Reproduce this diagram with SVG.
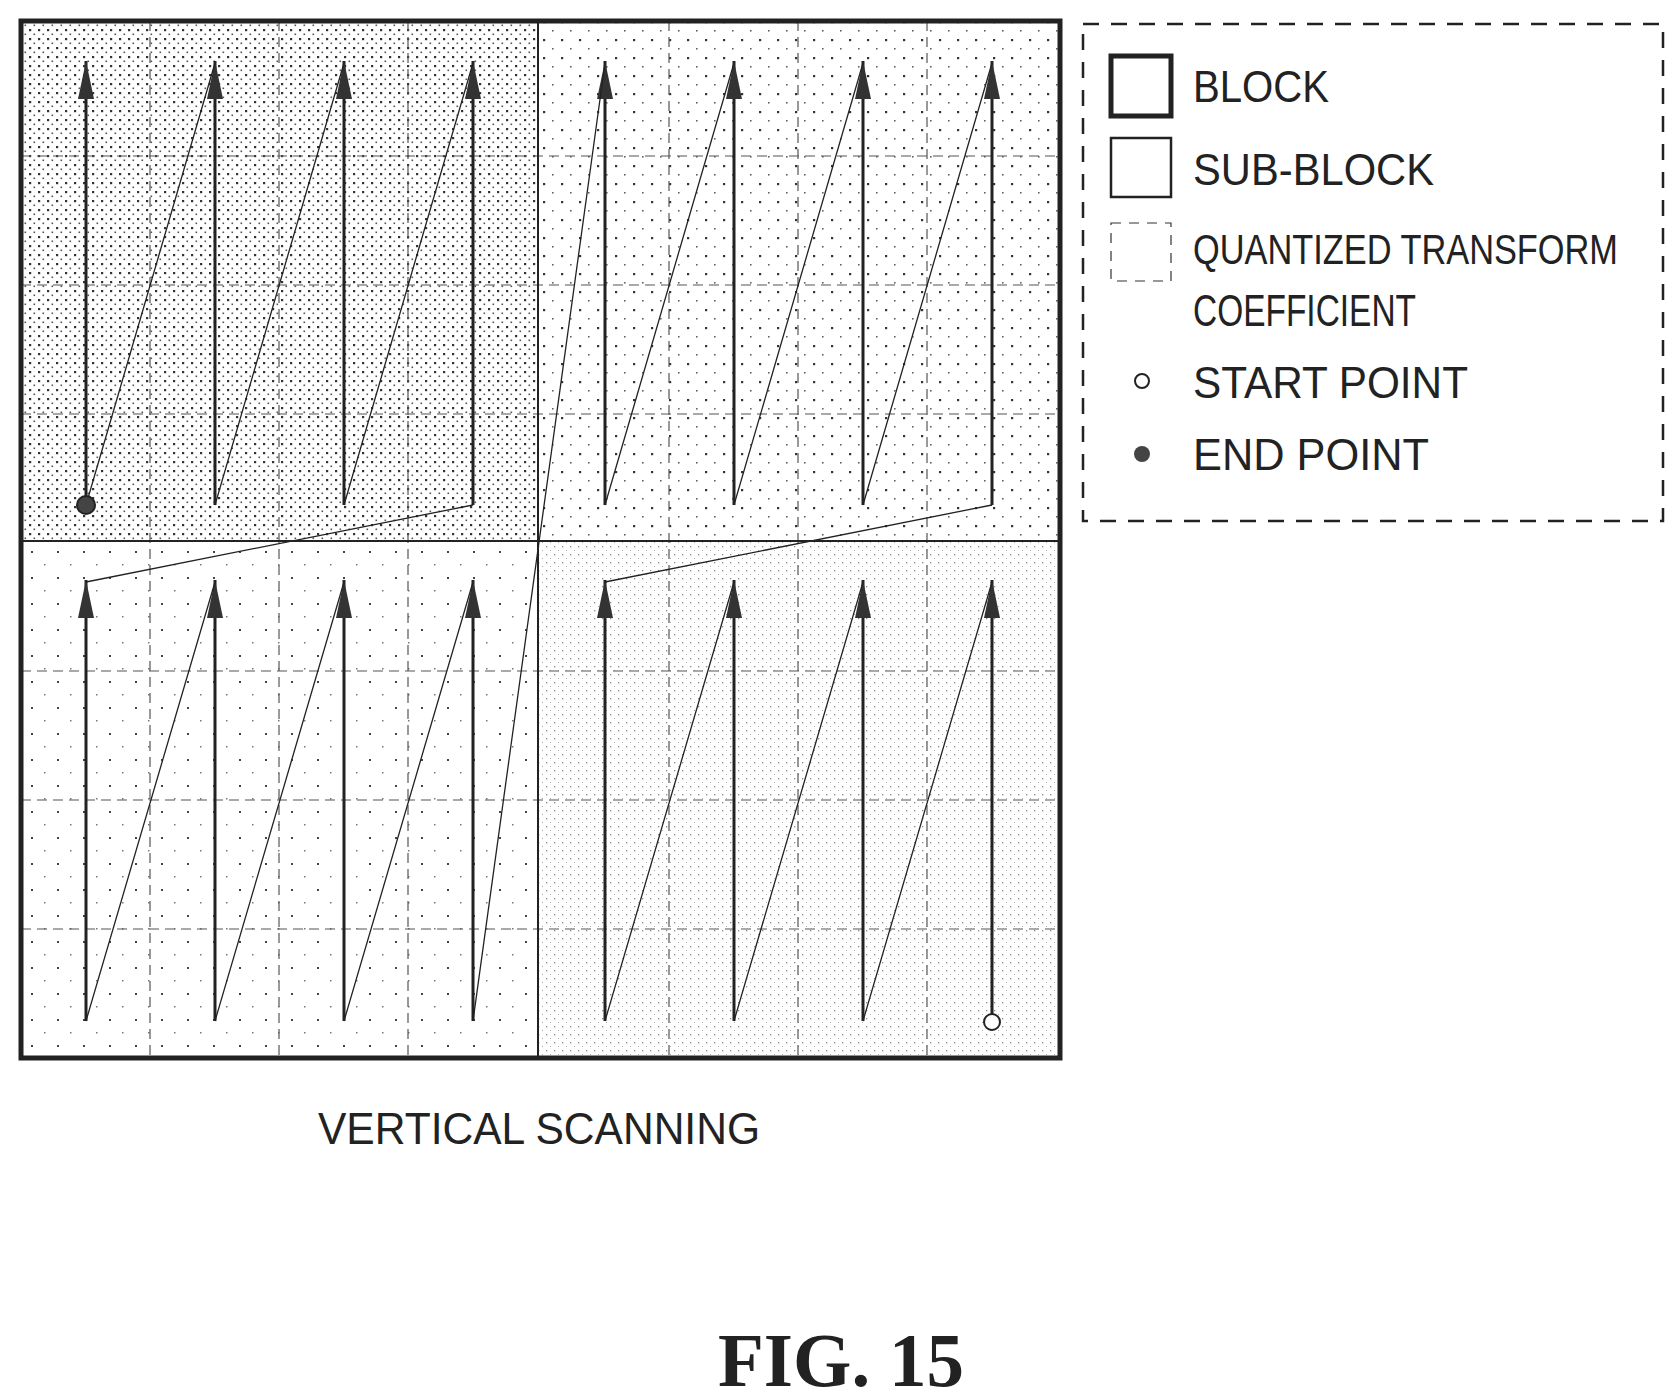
<svg xmlns="http://www.w3.org/2000/svg" width="1676" height="1399" viewBox="0 0 1676 1399">
<style>
.t{font-family:"Liberation Sans",Arial,sans-serif;font-size:44px;fill:#222}
.grid{stroke:#555;stroke-width:1.2;stroke-dasharray:10 6;fill:none}
.arr{stroke:#222;stroke-width:3;fill:none;marker-end:url(#ah)}
.diag{stroke:#222;stroke-width:1.3;fill:none}
</style>
<defs>
<marker id="ah" markerWidth="40" markerHeight="16" refX="40" refY="8" orient="auto" markerUnits="userSpaceOnUse" viewBox="0 0 40 16">
<path d="M40 8 L2 0 L2 16 Z" fill="#333"/>
</marker>
<pattern id="p1" width="9" height="9" patternUnits="userSpaceOnUse"><rect width="9" height="9" fill="#fff"/><rect x="2" y="2" width="2.2" height="2.2" fill="#333"/><rect x="6.5" y="6.5" width="1.6" height="1.6" fill="#555"/></pattern>
<pattern id="p2" width="18" height="18" patternUnits="userSpaceOnUse"><rect width="18" height="18" fill="#fff"/><rect x="3" y="3" width="2.2" height="2.2" fill="#333"/><rect x="12" y="12" width="1.6" height="1.6" fill="#666"/></pattern>
<pattern id="p3" width="26" height="26" patternUnits="userSpaceOnUse"><rect width="26" height="26" fill="#fff"/><rect x="5" y="5" width="2" height="2" fill="#444"/><rect x="18" y="18" width="1.5" height="1.5" fill="#777"/></pattern>
<pattern id="p4" width="8" height="8" patternUnits="userSpaceOnUse"><rect width="8" height="8" fill="#fff"/><rect x="2" y="2" width="1.3" height="1.3" fill="#888"/><rect x="6" y="6" width="1" height="1" fill="#aaa"/></pattern>
</defs>
<rect width="1676" height="1399" fill="#fff"/>
<g id="blocks">
<rect x="21" y="21" width="517" height="520" fill="url(#p1)"/>
<rect x="538" y="21" width="522" height="520" fill="url(#p2)"/>
<rect x="21" y="541" width="517" height="517" fill="url(#p3)"/>
<rect x="538" y="541" width="522" height="517" fill="url(#p4)"/>
<path class="grid" d="M150 21V1058M279 21V1058M408 21V1058M669 21V1058M798 21V1058M927 21V1058M21 156H1060M21 285H1060M21 414H1060M21 671H1060M21 800H1060M21 929H1060"/>
<path d="M538 21V1058M21 541H1060" stroke="#222" stroke-width="2" fill="none"/>
<rect x="21" y="21" width="1039" height="1037" fill="none" stroke="#222" stroke-width="5"/>
</g>
<g id="connectors">
<path class="arr" d="M86 505V61"/><path class="arr" d="M215 505V61"/><path class="arr" d="M344 505V61"/><path class="arr" d="M473 505V61"/>
<path class="arr" d="M605 505V61"/><path class="arr" d="M734 505V61"/><path class="arr" d="M863 505V61"/><path class="arr" d="M992 505V61"/>
<path class="arr" d="M86 1021V580"/><path class="arr" d="M215 1021V580"/><path class="arr" d="M344 1021V580"/><path class="arr" d="M473 1021V580"/>
<path class="arr" d="M605 1021V580"/><path class="arr" d="M734 1021V580"/><path class="arr" d="M863 1021V580"/><path class="arr" d="M992 1014V580"/>
<path class="diag" d="M992 582L863 1021M863 582L734 1021M734 582L605 1021M605 582L992 505M992 63L863 505M863 63L734 505M734 63L605 505M605 63L473 1021M473 582L344 1021M344 582L215 1021M215 582L86 1021M86 582L473 505M473 63L344 505M344 63L215 505M215 63L86 505"/>
</g>
<g id="points">
<circle cx="992" cy="1022" r="8" fill="#fff" stroke="#222" stroke-width="2"/>
<circle cx="86" cy="505" r="9" fill="#444" stroke="#222" stroke-width="2"/>
</g>
<g id="legend">
<rect x="1083" y="24" width="580" height="497" fill="none" stroke="#222" stroke-width="2.5" stroke-dasharray="16 12"/>
<rect x="1111" y="56" width="60" height="60" fill="none" stroke="#222" stroke-width="5"/>
<rect x="1111" y="138" width="60" height="59" fill="none" stroke="#222" stroke-width="2.5"/>
<rect x="1111" y="223" width="60" height="58" fill="none" stroke="#333" stroke-width="1.2" stroke-dasharray="10 8"/>
<circle cx="1142" cy="381" r="7" fill="#fff" stroke="#222" stroke-width="2"/>
<circle cx="1142" cy="454" r="8" fill="#444"/>
<text class="t" x="1193" y="102" textLength="136" lengthAdjust="spacingAndGlyphs">BLOCK</text>
<text class="t" x="1193" y="185" textLength="241" lengthAdjust="spacingAndGlyphs">SUB-BLOCK</text>
<text class="t" x="1193" y="264" textLength="425" lengthAdjust="spacingAndGlyphs" style="font-size:42px">QUANTIZED TRANSFORM</text>
<text class="t" x="1193" y="326" textLength="223" lengthAdjust="spacingAndGlyphs">COEFFICIENT</text>
<text class="t" x="1193" y="398" textLength="275" lengthAdjust="spacingAndGlyphs">START POINT</text>
<text class="t" x="1193" y="470" textLength="236" lengthAdjust="spacingAndGlyphs">END POINT</text>
</g>
<text class="t" x="318" y="1144" textLength="442" lengthAdjust="spacingAndGlyphs">VERTICAL SCANNING</text>
<text x="718" y="1386" textLength="246" lengthAdjust="spacingAndGlyphs" style="font-family:'Liberation Serif',serif;font-weight:bold;font-size:76px;fill:#222">FIG. 15</text>
</svg>
